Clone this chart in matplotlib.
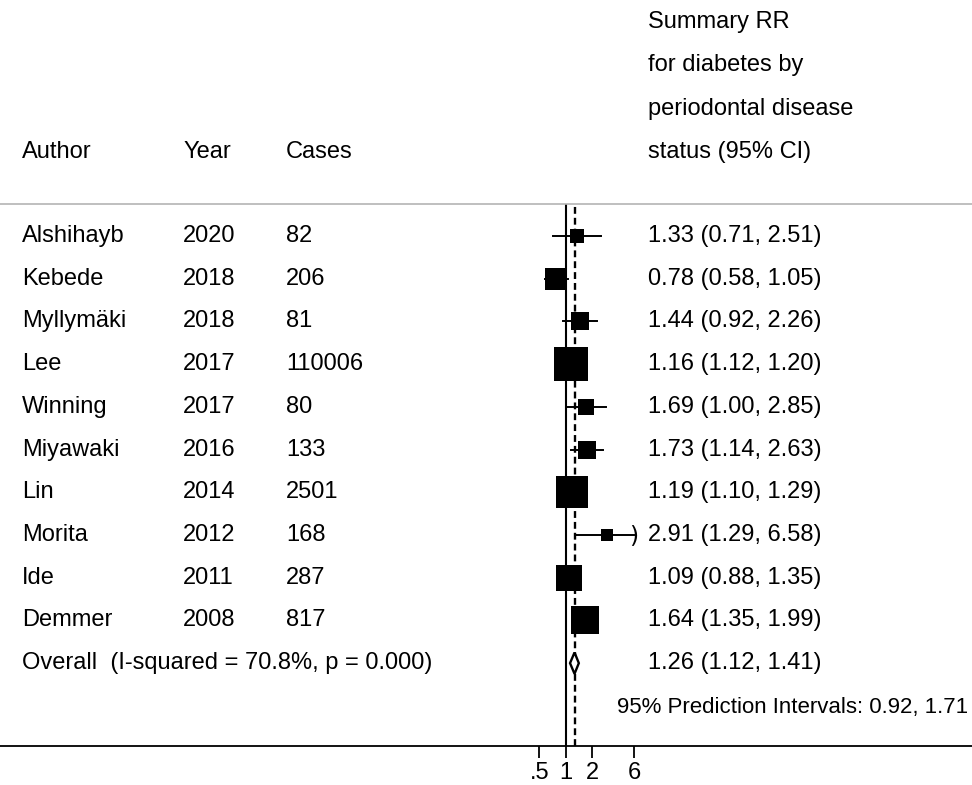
import numpy as np
import matplotlib.pyplot as plt
from matplotlib.patches import Polygon

plt.rcParams['font.family'] = ['Liberation Sans', 'DejaVu Sans']

# Study data
authors = ['Alshihayb', 'Kebede', 'Myllymäki', 'Lee', 'Winning',
           'Miyawaki', 'Lin', 'Morita', 'Ide', 'Demmer']
years = [2020, 2018, 2018, 2017, 2017, 2016, 2014, 2012, 2011, 2008]
cases = [82, 206, 81, 110006, 80, 133, 2501, 168, 287, 817]
rr = [1.33, 0.78, 1.44, 1.16, 1.69, 1.73, 1.19, 2.91, 1.09, 1.64]
ci_lo = [0.71, 0.58, 0.92, 1.12, 1.00, 1.14, 1.10, 1.29, 0.88, 1.35]
ci_hi = [2.51, 1.05, 2.26, 1.20, 2.85, 2.63, 1.29, 6.58, 1.35, 1.99]
weights = [3.2, 9.0, 5.4, 21.6, 4.2, 6.7, 20.3, 2.3, 12.6, 14.6]  # estimated %

overall = (1.26, 1.12, 1.41)
i_squared = 70.8
p_value = 0.000
pred_interval = (0.92, 1.71)

xticks = [0.5, 1, 2, 6]
xtick_labels = ['.5', '1', '2', '6']
x_clip = 6  # CIs beyond this are cut with a bracket

FS = 17

fig = plt.figure(figsize=(9.72, 7.85), dpi=100)
W, H = 972, 785
top_px, bot_px = 204, 746
ax = fig.add_axes([0, (H - bot_px) / H, 1, (bot_px - top_px) / H])

# log x scale: RR = 1 sits at pixel 566, 38.2 px per ln unit
ax.set_xscale('log')
x1_px, px_per_ln = 565.7, 38.2
ax.set_xlim(np.exp(-x1_px / px_per_ln), np.exp((W - x1_px) / px_per_ln))
n = len(authors)
ax.set_ylim(11.94, -0.75)

ax.set_xticks(xticks)
ax.set_xticklabels(xtick_labels, fontsize=FS)
ax.xaxis.set_minor_locator(plt.NullLocator())
ax.set_yticks([])
ax.tick_params(axis='x', direction='out', length=8.5, width=1.3, pad=3)
for side in ['left', 'right']:
    ax.spines[side].set_visible(False)
ax.spines['top'].set_color('#b4b4b4')
ax.spines['top'].set_linewidth(1.2)
ax.spines['bottom'].set_linewidth(1.3)

# reference lines
ax.axvline(1, color='black', lw=1.5, zorder=1)
ax.axvline(overall[0], color='black', lw=1.7, ls=(0, (2.9, 1.7)), zorder=1)

rows = np.arange(n)
side_px = 7.32 * np.sqrt(weights)
for i in range(n):
    hi = min(ci_hi[i], x_clip)
    ax.plot([ci_lo[i], hi], [rows[i], rows[i]], color='black', lw=1.4, zorder=2)
    if ci_hi[i] > x_clip:
        ax.plot(x_clip, rows[i], marker='$)$', markersize=15, color='black',
                markeredgewidth=0, zorder=3)
    ax.plot(rr[i], rows[i], marker='s', markersize=side_px[i] * 0.72,
            color='black', markeredgewidth=0, zorder=3)

# overall diamond
yo = n
h = 0.25
diamond = Polygon([[overall[1], yo], [overall[0], yo - h],
                   [overall[2], yo], [overall[0], yo + h]],
                  closed=True, facecolor='white', edgecolor='black',
                  lw=1.7, zorder=4)
ax.add_patch(diamond)

# text columns
tr = ax.get_yaxis_transform()
x_author, x_year, x_cases, x_rr = 22 / W, 183 / W, 286 / W, 648 / W
for i in range(n):
    ax.text(x_author, rows[i], authors[i], transform=tr, fontsize=FS, va='center')
    ax.text(x_year, rows[i], str(years[i]), transform=tr, fontsize=FS, va='center')
    ax.text(x_cases, rows[i], str(cases[i]), transform=tr, fontsize=FS, va='center')
    ax.text(x_rr, rows[i], f'{rr[i]:.2f} ({ci_lo[i]:.2f}, {ci_hi[i]:.2f})',
            transform=tr, fontsize=FS, va='center')

ax.text(x_author, yo, f'Overall  (I-squared = {i_squared:.1f}%, p = {p_value:.3f})',
        transform=tr, fontsize=FS, va='center')
ax.text(x_rr, yo, f'{overall[0]:.2f} ({overall[1]:.2f}, {overall[2]:.2f})',
        transform=tr, fontsize=FS, va='center')
ax.text(617 / W, yo + 1.05,
        f'95% Prediction Intervals: {pred_interval[0]:.2f}, {pred_interval[1]:.2f}',
        transform=tr, fontsize=16, va='center')

# headers
header_lines = ['Summary RR', 'for diabetes by', 'periodontal disease', 'status (95% CI)']
for k, line in enumerate(header_lines):
    fig.text(x_rr, 1 - (22 + 43.4 * k) / H, line, fontsize=FS, va='center')
y_head = 1 - (22 + 43.4 * 3) / H
fig.text(x_author, y_head, 'Author', fontsize=FS, va='center')
fig.text(x_year, y_head, 'Year', fontsize=FS, va='center')
fig.text(x_cases, y_head, 'Cases', fontsize=FS, va='center')

fig.savefig('out.png', dpi=100)
